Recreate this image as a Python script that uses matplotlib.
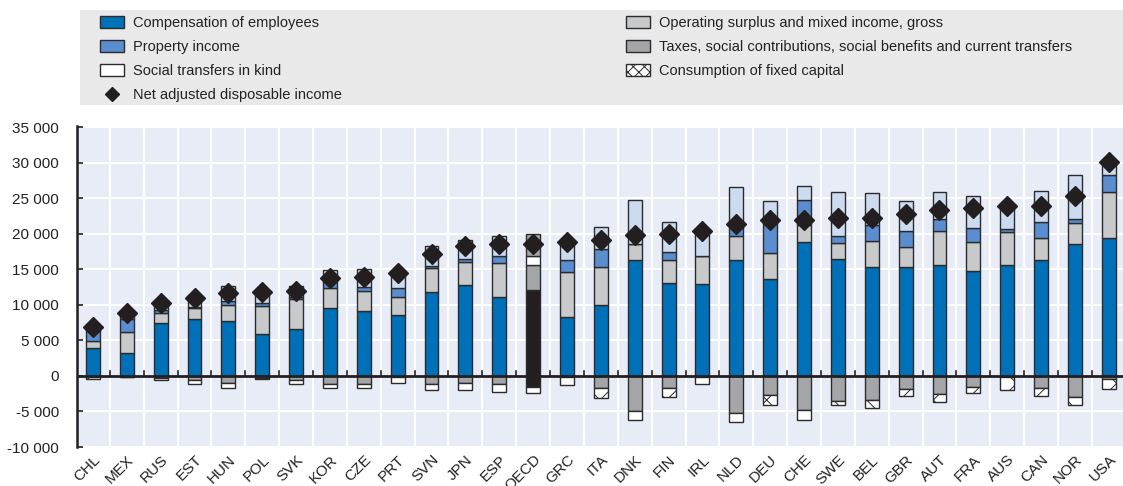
import numpy as np
import matplotlib
matplotlib.use("Agg")
import matplotlib.pyplot as plt
from matplotlib.patches import Patch, Rectangle
from matplotlib.lines import Line2D
from matplotlib.ticker import FuncFormatter

countries = ["CHL", "MEX", "RUS", "EST", "HUN", "POL", "SVK", "KOR", "CZE", "PRT",
             "SVN", "JPN", "ESP", "OECD", "GRC", "ITA", "DNK", "FIN", "IRL", "NLD",
             "DEU", "CHE", "SWE", "BEL", "GBR", "AUT", "FRA", "AUS", "CAN", "NOR", "USA"]

compensation = [3950, 3240, 7470, 7980, 7700, 5870, 6570, 9580, 9160, 8550,
                11790, 12820, 11130, 12070, 8310, 9960, 16390, 13150, 12920, 16390,
                13620, 18880, 16530, 15310, 15310, 15590, 14750, 15640, 16390, 18550, 19490]
op_surplus = [1040, 2960, 1410, 1550, 2260, 3940, 4230, 2870, 2820, 2540,
              3380, 3240, 4790, 3570, 6390, 5400, 2250, 3150, 4040, 3290,
              3710, 2440, 2210, 3660, 2870, 4790, 4180, 4650, 3050, 3000, 6390]
property_inc = [1400, 1780, 470, 150, 610, 520, 330, 800, 610, 1360,
                380, 420, 940, 1320, 1640, 2580, 0, 1130, 0, 1550,
                4130, 3520, 990, 2350, 2250, 1780, 1880, 380, 2210, 610, 2490]
social_kind = [570, 470, 1410, 1780, 2070, 1410, 1500, 1640, 2530, 2110,
               2720, 2720, 2910, 3100, 2490, 3060, 6200, 4270, 3570, 5400,
               3150, 1970, 6200, 4510, 4230, 3760, 4510, 3610, 4370, 6200, 1640]
taxes = [-150, -90, -350, -500, -1000, -250, -550, -1100, -1100, -150,
         -1170, -1000, -1080, -1550, -100, -1690, -4980, -1690, -100, -5210,
         -2720, -4840, -3570, -3430, -1780, -2580, -1550, -100, -1690, -2960, -420]
fixed_capital = [-270, -50, -170, -580, -650, -130, -620, -540, -540, -850,
                 -850, -1000, -1220, -850, -1200, -1360, -1270, -1270, -1000, -1270,
                 -1320, -1310, -560, -1030, -1030, -1080, -800, -1830, -1130, -1080, -1360]
nadi = [6900, 8800, 10290, 10990, 11690, 11830, 11930, 13860, 14000, 14500,
        17140, 18270, 18650, 18650, 18800, 19210, 19820, 19960, 20400, 21460,
        21930, 22030, 22310, 22310, 22780, 23440, 23720, 23910, 23910, 25320, 30150]

plt.rcParams['font.family'] = ['Liberation Sans', 'DejaVu Sans']
plt.rcParams['hatch.linewidth'] = 0.7
plt.rcParams['hatch.color'] = '#333333'

C_COMP = '#0070b8'
C_PROP = '#5b8ed0'
C_SOC = '#cddbf0'
C_OPS = '#c8c9cb'
C_TAX = '#a4a5a8'
C_DARK = '#231f20'
EDGE = '#2b2b2b'
FS = 10.5

x = np.arange(len(countries))
oecd = countries.index("OECD")

def cols(normal, highlight):
    return [highlight if i == oecd else normal for i in range(len(countries))]

fig = plt.figure(figsize=(11.23, 4.86), dpi=100)
ax = fig.add_axes([77 / 1123, 1 - 447 / 486, 1 - 77 / 1123, 321 / 486])
ax.set_facecolor('#e8ecf6')

w = 0.41
comp = np.array(compensation, float)
ops = np.array(op_surplus, float)
prop = np.array(property_inc, float)
soc = np.array(social_kind, float)
tax = np.array(taxes, float)
cfc = np.array(fixed_capital, float)

kw = dict(width=w, edgecolor=EDGE, linewidth=1.0, zorder=3)
ax.bar(x, comp, color=cols(C_COMP, C_DARK), **kw)
ax.bar(x, ops, bottom=comp, color=cols(C_OPS, C_TAX), **kw)
ax.bar(x, prop, bottom=comp + ops, color=cols(C_PROP, 'white'), **kw)
ax.bar(x, soc, bottom=comp + ops + prop, color=cols(C_SOC, C_TAX), **kw)
ax.bar(x, tax, color=cols(C_TAX, C_DARK), **kw)
ax.bar(x, cfc, bottom=tax, color='white', hatch='x', **kw)
ax.plot(x, nadi, linestyle='none', marker='D', markersize=10, color=C_DARK, zorder=5)

ax.set_xlim(-0.47, 30.42)
ax.set_ylim(-10000, 35200)
ax.set_yticks(np.arange(-10000, 35001, 5000))
ax.yaxis.set_major_formatter(FuncFormatter(lambda v, p: f"{v:,.0f}".replace(",", " ")))
ax.grid(axis='y', color='white', linewidth=1.5, zorder=0)
for b in x[:-1] + 0.5:
    ax.axvline(b, color='white', linewidth=1.5, zorder=0)
    ax.plot([b, b], [0, 700], color=C_DARK, linewidth=1.2, zorder=4)
ax.axhline(0, color=C_DARK, linewidth=2, zorder=4)

for s in ['top', 'right', 'bottom']:
    ax.spines[s].set_visible(False)
ax.spines['left'].set_color(C_DARK)
ax.spines['left'].set_linewidth(1.8)
ax.tick_params(axis='y', direction='in', length=4, width=1.2, color=C_DARK,
               labelsize=FS + 0.5, pad=13, labelcolor='#222222')
ax.tick_params(axis='x', length=0, pad=4)
ax.set_xticks(x)
ax.set_xticklabels(countries, rotation=45, ha='right', va='top',
                   rotation_mode='anchor', fontsize=FS + 0.5, color='#222222')

fig.patches.append(Rectangle((80 / 1123, 1 - 105 / 486), 1 - 80 / 1123, 95 / 486,
                             transform=fig.transFigure, facecolor='#e9e9e9',
                             edgecolor='none', zorder=0))

h_left = [Patch(facecolor=C_COMP, edgecolor=EDGE, label='Compensation of employees'),
          Patch(facecolor=C_PROP, edgecolor=EDGE, label='Property income'),
          Patch(facecolor='white', edgecolor=EDGE, label='Social transfers in kind'),
          Line2D([], [], linestyle='none', marker='D', markersize=7, color=C_DARK,
                 label='Net adjusted disposable income')]
h_right = [Patch(facecolor=C_OPS, edgecolor=EDGE, label='Operating surplus and mixed income, gross'),
           Patch(facecolor=C_TAX, edgecolor=EDGE,
                 label='Taxes, social contributions, social benefits and current transfers'),
           Patch(facecolor='white', edgecolor=EDGE, hatch='xxx', label='Consumption of fixed capital')]

lkw = dict(frameon=False, fontsize=FS, handlelength=1.65, handleheight=0.9,
           handletextpad=0.6, labelspacing=0.68, borderpad=0, borderaxespad=0,
           loc='upper left')
leg1 = fig.legend(handles=h_left, bbox_to_anchor=(100 / 1123, 1 - 16 / 486), **lkw)
leg2 = fig.legend(handles=h_right, bbox_to_anchor=(626 / 1123, 1 - 16 / 486), **lkw)
for leg in (leg1, leg2):
    for t in leg.get_texts():
        t.set_color('#222222')

fig.savefig('out.png', dpi=100)
